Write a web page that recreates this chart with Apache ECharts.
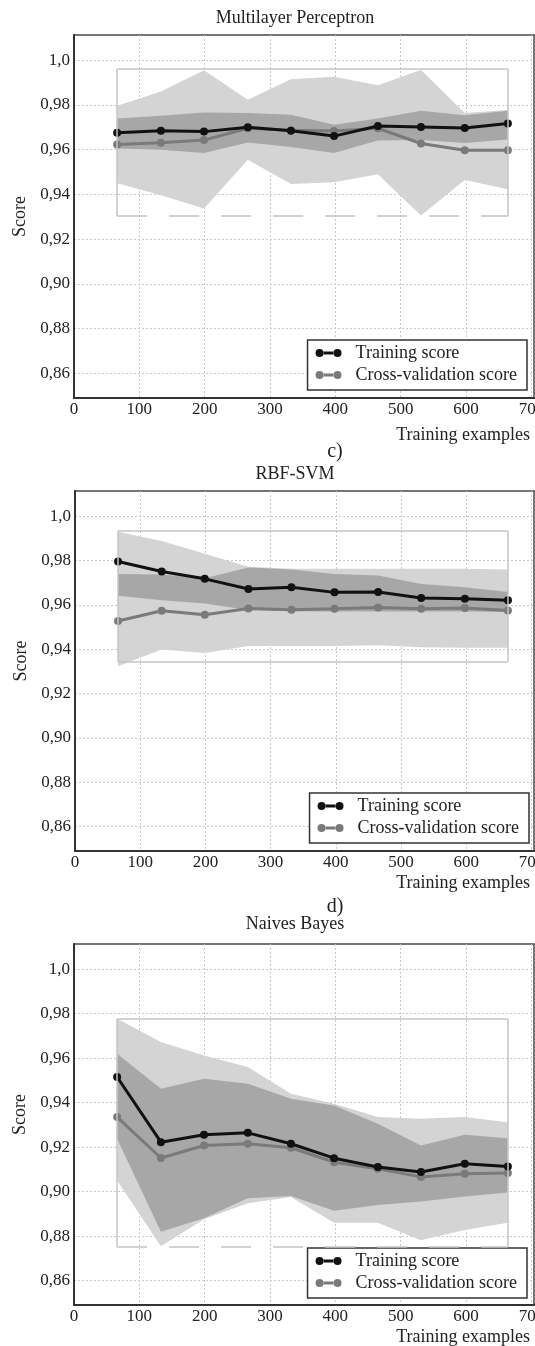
<!DOCTYPE html>
<html><head><meta charset="utf-8">
<script src="https://cdn.jsdelivr.net/npm/echarts@6/dist/echarts.min.js"></script>
<style>html,body{margin:0;padding:0;background:#fff}#c{width:535px;height:1346px}</style>
</head><body><div id="c"></div>
<script>
// ---------- data ----------
const trainSizes = [66, 133, 199, 266, 332, 398, 465, 531, 598, 664];
const xTickValues = [0, 100, 200, 300, 400, 500, 600, 700];
const xTickLabels = ['0', '100', '200', '300', '400', '500', '600', '700'];
const yTickValues = [0.86, 0.88, 0.90, 0.92, 0.94, 0.96, 0.98, 1.0];
const yTickLabels = ['0,86', '0,88', '0,90', '0,92', '0,94', '0,96', '0,98', '1,0'];
const legendNames = ['Training score', 'Cross-validation score'];
const panelTitles = ['Multilayer Perceptron', 'RBF-SVM', 'Naives Bayes'];
const panelLetters = ['c)', 'd)'];
const xAxisTitle = 'Training examples';
const yAxisTitle = 'Score';

// Multilayer Perceptron
const mlpTrain   = [0.9676, 0.9685, 0.9681, 0.9701, 0.9685, 0.9661, 0.9706, 0.9702, 0.9697, 0.9717];
const mlpCv      = [0.9623, 0.9631, 0.9643, 0.9696, 0.9687, 0.9684, 0.9696, 0.9628, 0.9598, 0.9598];
const mlpDarkHi  = [0.9740, 0.9752, 0.9767, 0.9764, 0.9756, 0.9712, 0.9740, 0.9774, 0.9754, 0.9774];
const mlpDarkLo  = [0.9605, 0.9600, 0.9585, 0.9632, 0.9612, 0.9585, 0.9641, 0.9643, 0.9630, 0.9646];
const mlpLightHi = [0.9797, 0.9860, 0.9955, 0.9823, 0.9915, 0.9926, 0.9888, 0.9956, 0.9764, 0.9778];
const mlpLightLo = [0.9450, 0.9397, 0.9337, 0.9555, 0.9447, 0.9455, 0.9490, 0.9306, 0.9465, 0.9423];
const mlpFrame   = [66, 664, 0.9961, 0.9303];

// RBF-SVM
const svmTrain   = [0.9795, 0.9750, 0.9717, 0.9671, 0.9679, 0.9656, 0.9658, 0.9631, 0.9627, 0.9621];
const svmCv      = [0.9527, 0.9573, 0.9555, 0.9583, 0.9578, 0.9582, 0.9588, 0.9582, 0.9585, 0.9574];
const svmDarkHi  = [0.9739, 0.9736, 0.9720, 0.9768, 0.9759, 0.9739, 0.9732, 0.9694, 0.9679, 0.9658];
const svmDarkLo  = [0.9641, 0.9621, 0.9606, 0.9577, 0.9571, 0.9570, 0.9570, 0.9570, 0.9570, 0.9568];
const svmLightHi = [0.9929, 0.9888, 0.9830, 0.9772, 0.9762, 0.9762, 0.9762, 0.9762, 0.9762, 0.9759];
const svmLightLo = [0.9323, 0.9398, 0.9383, 0.9414, 0.9414, 0.9414, 0.9418, 0.9409, 0.9406, 0.9406];
const svmFrame   = [66, 664, 0.9933, 0.9344];

// Naives Bayes
const nbTrain   = [0.9515, 0.9222, 0.9255, 0.9264, 0.9215, 0.9150, 0.9110, 0.9088, 0.9125, 0.9113];
const nbCv      = [0.9335, 0.9151, 0.9207, 0.9215, 0.9197, 0.9132, 0.9102, 0.9066, 0.9080, 0.9084];
const nbDarkHi  = [0.9620, 0.9462, 0.9507, 0.9485, 0.9417, 0.9387, 0.9305, 0.9207, 0.9255, 0.9240];
const nbDarkLo  = [0.9237, 0.8819, 0.8880, 0.8970, 0.8980, 0.8914, 0.8940, 0.8955, 0.8978, 0.8996];
const nbLightHi = [0.9777, 0.9672, 0.9612, 0.9560, 0.9440, 0.9395, 0.9335, 0.9327, 0.9335, 0.9312];
const nbLightLo = [0.9050, 0.8754, 0.8875, 0.8948, 0.8975, 0.8860, 0.8860, 0.8781, 0.8827, 0.8860];
const nbFrame   = [66, 664, 0.9776, 0.8752];

// ---------- layout / style ----------
const FONT = '"Liberation Serif", "Times New Roman", serif';
const TXT = '#222';
const LIGHT = '#d4d4d4', DARK = '#a7a7a7';
const TRAIN_C = '#111111', CV_C = '#7a7a7a';
const Y_MIN = 0.849, Y_MAX = 1.0113, X_MIN = 0, X_MAX = 704;

const panels = [
  { train: mlpTrain, cv: mlpCv, dHi: mlpDarkHi, dLo: mlpDarkLo, lHi: mlpLightHi, lLo: mlpLightLo, frame: mlpFrame,
    grid: { left: 74, top: 35, width: 460, height: 363 }, titleY: 18, xNameY: 435, scorePad: 0, scoreGap: 39,
    legendTop: 340, legendRight: 8, bottomDashed: true },
  { train: svmTrain, cv: svmCv, dHi: svmDarkHi, dLo: svmDarkLo, lHi: svmLightHi, lLo: svmLightLo, frame: svmFrame,
    grid: { left: 75, top: 491, width: 459, height: 360 }, titleY: 474, xNameY: 883, scorePad: 20, scoreGap: 35,
    legendTop: 793, legendRight: 6, bottomDashed: false },
  { train: nbTrain, cv: nbCv, dHi: nbDarkHi, dLo: nbDarkLo, lHi: nbLightHi, lLo: nbLightLo, frame: nbFrame,
    grid: { left: 74, top: 944, width: 460, height: 361 }, titleY: 924, xNameY: 1337, scorePad: 20, scoreGap: 35,
    legendTop: 1248, legendRight: 8, bottomDashed: true }
];
const letterPos = [{ x: 335, y: 452 }, { x: 335, y: 907 }];

const zip = (ys) => trainSizes.map((x, i) => [x, ys[i]]);
const bandData = (lo, hi) => trainSizes.map((x, i) => [x, lo[i], hi[i]]);

function yFmt(v) {
  for (let i = 0; i < yTickValues.length; i++) if (Math.abs(v - yTickValues[i]) < 1e-6) return yTickLabels[i];
  return '';
}
function xFmt(v) {
  for (let i = 0; i < xTickValues.length; i++) if (Math.abs(v - xTickValues[i]) < 1e-6) return xTickLabels[i];
  return '';
}
function makeBandRenderer(color) {
  return function (params, api) {
    if (params.dataIndexInside !== 0) return;
    const n = params.dataInsideLength;
    const up = [], dn = [];
    for (let j = 0; j < n; j++) {
      const x = api.value(0, j);
      up.push(api.coord([x, api.value(2, j)]));
      dn.push(api.coord([x, api.value(1, j)]));
    }
    return { type: 'polygon', shape: { points: up.concat(dn.reverse()) }, style: { fill: color, stroke: null } };
  };
}

const legendIcon = 'path://M0,5a4,4 0 1,0 8,0a4,4 0 1,0 -8,0Z M18,5a4,4 0 1,0 8,0a4,4 0 1,0 -8,0Z M7.6,3.4L18.4,3.4L18.4,6.6L7.6,6.6Z';
const gridLineStyle = { color: '#c9c9c9', width: 1, type: [2, 2] };

const grids = [], xAxes = [], yAxes = [], series = [], legends = [], graphics = [];
panels.forEach((p, i) => {
  grids.push(Object.assign({ show: true, borderColor: '#4a4a4a', borderWidth: 1.5, backgroundColor: 'transparent',
    containLabel: false, outerBoundsMode: 'none' }, p.grid));
  xAxes.push({
    type: 'value', gridIndex: i, min: X_MIN, max: X_MAX, splitNumber: 7,
    axisLine: { show: true, onZero: false, lineStyle: { color: '#333', width: 2 } },
    axisTick: { show: false },
    axisLabel: { fontFamily: FONT, fontSize: 17, color: TXT, margin: 3, formatter: xFmt, hideOverlap: false },
    splitLine: { show: true, showMinLine: false, showMaxLine: false, lineStyle: gridLineStyle }
  });
  yAxes.push({
    type: 'value', gridIndex: i, min: Y_MIN, max: Y_MAX, splitNumber: 8,
    name: yAxisTitle, nameLocation: 'middle', nameRotate: 90, nameGap: p.scoreGap,
    nameTextStyle: { fontFamily: FONT, fontSize: 18, color: TXT, padding: [0, 0, 0, p.scorePad] },
    axisLine: { show: true, onZero: false, lineStyle: { color: '#333', width: 2 } },
    axisTick: { show: false },
    axisLabel: { fontFamily: FONT, fontSize: 17, color: TXT, margin: 4, formatter: yFmt },
    splitLine: { show: true, showMinLine: false, showMaxLine: false, lineStyle: gridLineStyle }
  });
  const [fx0, fx1, fTop, fBot] = p.frame;
  const frameLines = [
    [{ coord: [fx0, fTop] }, { coord: [fx1, fTop] }],
    [{ coord: [fx0, fTop] }, { coord: [fx0, fBot] }],
    [{ coord: [fx1, fTop] }, { coord: [fx1, fBot] }],
    [{ coord: [fx0, fBot], lineStyle: p.bottomDashed ? { type: [30, 22] } : {} }, { coord: [fx1, fBot] }]
  ];
  const common = { xAxisIndex: i, yAxisIndex: i, animation: false };
  series.push(Object.assign({}, common, {
    type: 'custom', name: 'cvBand' + i, data: bandData(p.lLo, p.lHi), encode: { x: 0, y: [1, 2] },
    renderItem: makeBandRenderer(LIGHT), silent: true, z: 1, clip: true
  }));
  series.push(Object.assign({}, common, {
    type: 'custom', name: 'trainBand' + i, data: bandData(p.dLo, p.dHi), encode: { x: 0, y: [1, 2] },
    renderItem: makeBandRenderer(DARK), silent: true, z: 2, clip: true
  }));
  series.push(Object.assign({}, common, {
    type: 'line', name: legendNames[1], data: zip(p.cv), z: 3, symbol: 'circle', symbolSize: 8,
    itemStyle: { color: CV_C }, lineStyle: { color: CV_C, width: 3 },
    markLine: { symbol: 'none', silent: true, animation: false, label: { show: false },
      lineStyle: { color: '#c4c4c4', width: 1.5, type: 'solid' }, data: frameLines }
  }));
  series.push(Object.assign({}, common, {
    type: 'line', name: legendNames[0], data: zip(p.train), z: 4, symbol: 'circle', symbolSize: 8,
    itemStyle: { color: TRAIN_C }, lineStyle: { color: TRAIN_C, width: 3 }
  }));
  legends.push({
    data: legendNames.map(n => ({ name: n, icon: legendIcon })),
    orient: 'vertical', top: p.legendTop, right: p.legendRight,
    itemWidth: 26, itemHeight: 9, itemGap: 2,
    padding: [3, 10, 5, 8], borderColor: '#333', borderWidth: 1.5, borderRadius: 0,
    backgroundColor: '#fff', selectedMode: false,
    textStyle: { fontFamily: FONT, fontSize: 18, color: TXT, lineHeight: 20, padding: [0, 0, 0, 9] }
  });
  graphics.push({ type: 'text', x: 295, y: p.titleY, z: 10,
    style: { text: panelTitles[i], font: '18px ' + FONT, fill: TXT, textAlign: 'center', textVerticalAlign: 'middle' } });
  graphics.push({ type: 'text', x: 530, y: p.xNameY, z: 10,
    style: { text: xAxisTitle, font: '18px ' + FONT, fill: TXT, textAlign: 'right', textVerticalAlign: 'middle' } });
});
panelLetters.forEach((t, i) => {
  graphics.push({ type: 'text', x: letterPos[i].x, y: letterPos[i].y, z: 10,
    style: { text: t, font: '20px ' + FONT, fill: TXT, textAlign: 'center', textVerticalAlign: 'middle' } });
});

const chart = echarts.init(document.getElementById('c'), null, { renderer: 'canvas' });
chart.setOption({
  backgroundColor: '#fff',
  animation: false,
  grid: grids, xAxis: xAxes, yAxis: yAxes, series: series, legend: legends,
  graphic: graphics
});
</script></body></html>
